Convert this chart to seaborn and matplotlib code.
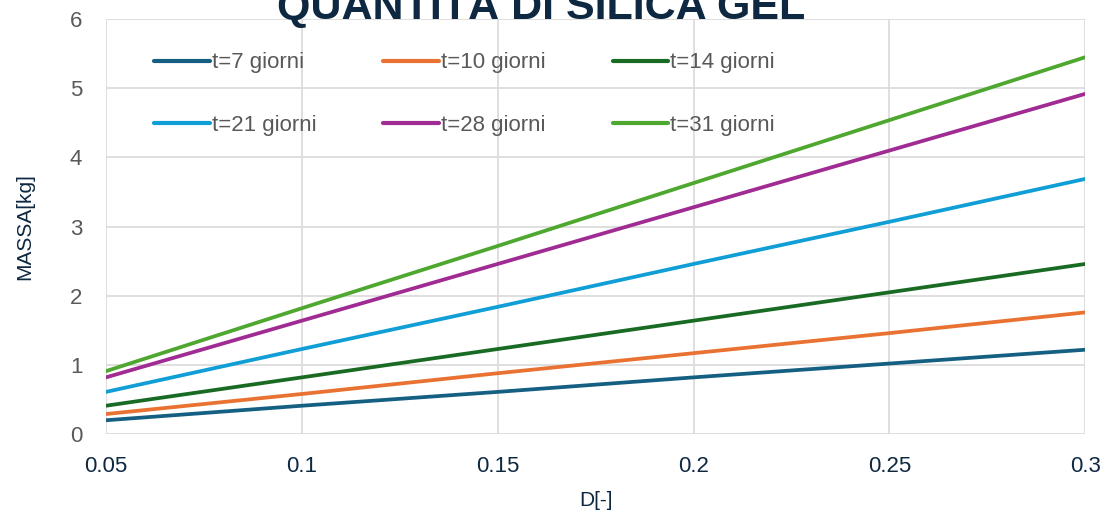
import pandas as pd
import seaborn as sns
import matplotlib.pyplot as plt
from matplotlib.lines import Line2D

# dati
D = [0.05, 0.1, 0.15, 0.2, 0.25, 0.3]
t7 = [0.20, 0.41, 0.61, 0.82, 1.02, 1.22]
t10 = [0.29, 0.58, 0.88, 1.17, 1.46, 1.76]
t14 = [0.41, 0.82, 1.23, 1.64, 2.05, 2.46]
t21 = [0.61, 1.23, 1.84, 2.46, 3.07, 3.69]
t28 = [0.82, 1.64, 2.46, 3.28, 4.10, 4.92]
t31 = [0.91, 1.82, 2.72, 3.63, 4.54, 5.45]
serie = ["t=7 giorni", "t=10 giorni", "t=14 giorni",
         "t=21 giorni", "t=28 giorni", "t=31 giorni"]
colori = ["#156082", "#E97132", "#196B24", "#0F9ED5", "#A02B93", "#4EA72E"]

righe = []
for nome, vals in zip(serie, [t7, t10, t14, t21, t28, t31]):
    for d, m in zip(D, vals):
        righe.append({"D": d, "M": m, "serie": nome})
df = pd.DataFrame(righe)

sns.set_style("white")
plt.rcParams['font.family'] = ['Liberation Sans', 'DejaVu Sans']

fig = plt.figure(figsize=(11.04, 5.18), dpi=100)
ax = fig.add_axes([0.096, 0.162, 0.887, 0.801])

sns.lineplot(data=df, x="D", y="M", hue="serie", palette=colori,
             linewidth=2.7, legend=False, ax=ax)

ax.set_xlim(0.05, 0.3)
ax.set_ylim(0, 6)
ax.set_xticks(D)
ax.set_xticklabels(["0.05", "0.1", "0.15", "0.2", "0.25", "0.3"])
ax.set_yticks(range(7))
ax.grid(True, color="#D9D9D9", linewidth=1.2)
for s in ax.spines.values():
    s.set_visible(False)
ax.tick_params(axis="x", colors="#0E2841", labelsize=16, length=0, pad=16)
ax.tick_params(axis="y", colors="#595959", labelsize=16, length=0, pad=17)
ax.set_xlabel("D[-]", fontsize=15, color="#0E2841", labelpad=10)
ax.set_ylabel("MASSA[kg]", fontsize=15, color="#0E2841", labelpad=26)

# legenda riempita per righe, come nell'originale
ordine = [0, 3, 1, 4, 2, 5]
handles = [Line2D([0], [0], color=colori[i], linewidth=3, solid_capstyle="round")
           for i in ordine]
labels = [serie[i] for i in ordine]
leg = ax.legend(handles, labels, ncol=3, loc="upper left",
                bbox_to_anchor=(0.029, 0.968), frameon=False, fontsize=16,
                handlelength=2.5, handletextpad=0.1, labelspacing=1.85,
                columnspacing=3.0)
for txt in leg.get_texts():
    txt.set_color("#595959")

fig.text(0.49, 0.963, "QUANTITÀ DI SILICA GEL", ha="center", va="baseline",
         fontsize=31, fontweight="bold", color="#0E2841")

fig.savefig("out.png", dpi=100)
